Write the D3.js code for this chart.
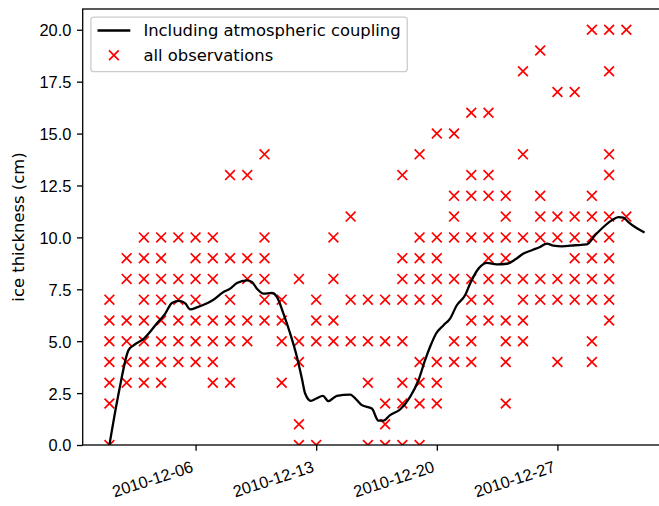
<!DOCTYPE html>
<html>
<head>
<meta charset="utf-8">
<script src="https://cdn.jsdelivr.net/npm/d3@7"></script>
<style>
  html, body { margin: 0; padding: 0; background: #ffffff; }
  svg { display: block; font-family: "DejaVu Sans", sans-serif; }
</style>
</head>
<body>
<svg id="chart" width="659" height="506"></svg>
<script>
// Daily ice-thickness observations (cm), one list per day
const obsDays = [
  "2010-12-01","2010-12-02","2010-12-03","2010-12-04","2010-12-05","2010-12-06","2010-12-07",
  "2010-12-08","2010-12-09","2010-12-10","2010-12-11","2010-12-12","2010-12-13","2010-12-14",
  "2010-12-15","2010-12-16","2010-12-17","2010-12-18","2010-12-19","2010-12-20","2010-12-21",
  "2010-12-22","2010-12-23","2010-12-24","2010-12-25","2010-12-26","2010-12-27","2010-12-28",
  "2010-12-29","2010-12-30","2010-12-31"
];
const obsThickness = [
  [0,2,3,4,5,6,7],
  [3,4,5,6,8,9],
  [3,4,5,6,7,8,9,10],
  [3,4,5,6,7,8,9,10],
  [4,5,6,7,8,10],
  [4,5,6,7,8,9,10],
  [3,4,5,6,8,9,10],
  [3,5,6,7,9,13],
  [5,6,8,9,13],
  [6,7,8,9,10,14],
  [3,5,6,7],
  [0,1,4,5,8],
  [0,5,6,7],
  [5,6,8,10],
  [5,7,11],
  [0,3,5,7],
  [0,1,2,5,7],
  [0,2,3,5,7,8,9,13],
  [0,2,3,4,7,8,9,10,14],
  [2,3,4,7,8,9,10,15],
  [4,5,8,10,11,12,15],
  [4,5,6,7,8,10,12,13,16],
  [6,7,8,9,10,12,13,16],
  [2,4,5,6,8,9,10,11,12],
  [5,6,7,8,10,14,18],
  [7,8,10,11,12,19],
  [4,7,8,10,11,17],
  [7,8,9,10,11,17],
  [4,5,7,8,9,10,11,12,20],
  [6,7,8,9,10,11,13,14,18,20],
  [11,20]
];

// Modelled thickness with atmospheric coupling: days since 2010-12-01 and cm
const lineStart = "2010-12-01";
const lineDays = [
  0, 0.57, 1.11, 1.40, 2.02, 2.76, 3.24, 3.63, 4.05, 4.40, 4.69, 5.08, 5.99, 6.62, 7.01,
  7.40, 7.98, 8.27, 8.56, 8.94, 9.43, 9.72, 10.10, 10.49, 10.88, 11.17, 11.36, 11.69, 12.00,
  12.39, 12.71, 13.20, 13.97, 14.36, 14.65, 15.23, 15.61, 15.90, 16.29, 16.87, 17.45, 17.94,
  18.32, 18.61, 18.96, 19.39, 19.77, 20.16, 20.64, 20.93, 21.32, 21.90, 22.48, 23.06, 23.54,
  24.03, 24.51, 24.99, 25.38, 25.77, 26.25, 27.02, 27.70, 28.18, 28.67, 29.15, 29.54, 29.83,
  30.12, 30.50, 31.00
];
const lineThickness = [
  0, 2.64, 4.57, 4.80, 5.14, 5.86, 6.33, 6.84, 6.94, 6.82, 6.53, 6.63, 6.97, 7.37, 7.53,
  7.80, 7.93, 7.85, 7.53, 7.29, 7.32, 7.13, 6.33, 5.37, 4.25, 3.20, 2.48, 2.13, 2.24,
  2.37, 2.11, 2.37, 2.43, 2.16, 1.92, 1.76, 1.17, 1.17, 1.44, 1.71, 2.32, 3.13,
  4.09, 4.73, 5.37, 5.77, 6.09, 6.73, 7.21, 7.77, 8.38, 8.77, 8.70, 8.73, 8.93,
  9.22, 9.38, 9.54, 9.70, 9.60, 9.57, 9.62, 9.66, 10.10, 10.50, 10.82, 10.98, 10.95,
  10.74, 10.50, 10.26
];

const xTickDates = ["2010-12-06","2010-12-13","2010-12-20","2010-12-27"];
const yTicks = [0, 2.5, 5, 7.5, 10, 12.5, 15, 17.5, 20];
const yLabel = "ice thickness (cm)";
const legendLabels = ["Including atmospheric coupling", "all observations"];

// ---------------------------------------------------------------
const fontSize = 16.4;
const plot = { left: 82.7, top: 9, right: 670.3, bottom: 445 };
const DAY = 864e5;
const parse = d3.utcParse("%Y-%m-%d");
const t0 = parse(lineStart);
const tEnd = new Date(t0.getTime() + 31 * DAY);
const span = tEnd - t0;

const x = d3.scaleUtc()
  .domain([new Date(t0 - 0.05 * span), new Date(+tEnd + 0.05 * span)])
  .range([plot.left, plot.right]);
const y = d3.scaleLinear().domain([0, 21]).range([plot.bottom, plot.top]);

const svg = d3.select("#chart");

svg.append("defs").append("clipPath").attr("id", "plotClip")
  .append("rect")
  .attr("x", plot.left).attr("y", plot.top)
  .attr("width", plot.right - plot.left).attr("height", plot.bottom - plot.top);

const gData = svg.append("g").attr("clip-path", "url(#plotClip)");

// Observation crosses
const points = [];
obsDays.forEach((d, i) => obsThickness[i].forEach(v => points.push({ t: parse(d), v })));
const r = 4.9;
gData.append("g").selectAll("path.obs").data(points).join("path")
  .attr("class", "obs")
  .attr("d", p => {
    const cx = x(p.t), cy = y(p.v);
    return `M${cx - r},${cy - r}L${cx + r},${cy + r}M${cx - r},${cy + r}L${cx + r},${cy - r}`;
  })
  .attr("stroke", "#ff0000").attr("stroke-width", 1.7).attr("fill", "none");

// Model line
const lineData = lineDays.map((d, i) => ({ t: new Date(t0.getTime() + d * DAY), v: lineThickness[i] }));
gData.append("path").datum(lineData)
  .attr("d", d3.line().x(p => x(p.t)).y(p => y(p.v)).curve(d3.curveMonotoneX))
  .attr("fill", "none").attr("stroke", "#000000").attr("stroke-width", 2.3)
  .attr("stroke-linejoin", "round").attr("stroke-linecap", "square");

// Axes
const tickLen = 5.7, tickPad = 5.7;
const xAxis = svg.append("g").attr("transform", `translate(0,${plot.bottom})`)
  .call(d3.axisBottom(x).tickValues(xTickDates.map(parse))
    .tickFormat(d3.utcFormat("%Y-%m-%d")).tickSize(tickLen).tickSizeOuter(0));
xAxis.select(".domain").remove();
xAxis.selectAll(".tick line").attr("stroke", "#000").attr("stroke-width", 1.3);
xAxis.selectAll(".tick text")
  .attr("font-size", fontSize).attr("fill", "#000")
  .attr("text-anchor", "end")
  .attr("x", 0).attr("y", 0).attr("dy", null)
  .attr("transform", "translate(-1.8,26.5) rotate(-18)");

const yAxis = svg.append("g").attr("transform", `translate(${plot.left},0)`)
  .call(d3.axisLeft(y).tickValues(yTicks).tickFormat(d3.format(".1f"))
    .tickSize(tickLen).tickPadding(tickPad).tickSizeOuter(0));
yAxis.select(".domain").remove();
yAxis.selectAll(".tick line").attr("stroke", "#000").attr("stroke-width", 1.3);
yAxis.selectAll(".tick text").attr("font-size", fontSize).attr("fill", "#000")
  .attr("dy", "0.36em");

// Frame
svg.append("rect")
  .attr("x", plot.left).attr("y", plot.top)
  .attr("width", plot.right - plot.left).attr("height", plot.bottom - plot.top)
  .attr("fill", "none").attr("stroke", "#000").attr("stroke-width", 1.3);

// Y label
svg.append("text")
  .attr("transform", `translate(24.3,${(plot.top + plot.bottom) / 2}) rotate(-90)`)
  .attr("text-anchor", "middle").attr("font-size", fontSize).attr("fill", "#000")
  .text(yLabel);

// Legend
const lg = svg.append("g");
const lgX = plot.left + 8.2, lgY = plot.top + 8.2;
const pad = 6.6, handleLen = 32.8, textGap = 13.1;
const rowY = [lgY + 13.3, lgY + 38];
const box = lg.append("rect")
  .attr("x", lgX).attr("y", lgY).attr("rx", 3).attr("ry", 3)
  .attr("fill", "#ffffff").attr("fill-opacity", 0.8)
  .attr("stroke", "#cccccc").attr("stroke-width", 1.3);
lg.append("line")
  .attr("x1", lgX + pad).attr("x2", lgX + pad + handleLen)
  .attr("y1", rowY[0]).attr("y2", rowY[0])
  .attr("stroke", "#000").attr("stroke-width", 2.3);
const mx = lgX + pad + handleLen / 2, my = rowY[1];
lg.append("path")
  .attr("d", `M${mx - r},${my - r}L${mx + r},${my + r}M${mx - r},${my + r}L${mx + r},${my - r}`)
  .attr("stroke", "#ff0000").attr("stroke-width", 1.7).attr("fill", "none");
let maxW = 0;
legendLabels.forEach((lab, i) => {
  const t = lg.append("text")
    .attr("x", lgX + pad + handleLen + textGap).attr("y", rowY[i]).attr("dy", "0.36em")
    .attr("font-size", fontSize).attr("fill", "#000").text(lab);
  maxW = Math.max(maxW, t.node().getComputedTextLength());
});
box.attr("width", pad + handleLen + textGap + maxW + pad).attr("height", 54.5);
</script>
</body>
</html>
